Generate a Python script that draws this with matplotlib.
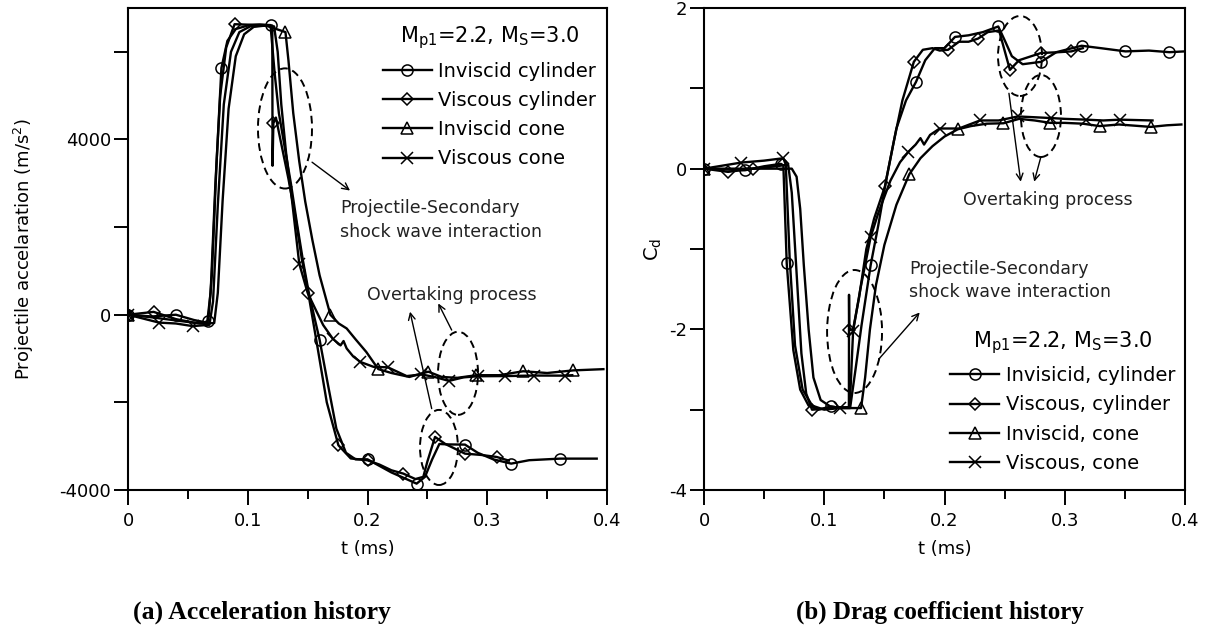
import numpy as np
import matplotlib
matplotlib.use("Agg")
import matplotlib.pyplot as plt
from matplotlib.patches import Ellipse

plt.rcParams['font.family'] = ['DejaVu Sans']
plt.rcParams['mathtext.fontset'] = 'dejavusans'
plt.rcParams['axes.unicode_minus'] = False

# ---------------- data: (a) acceleration (m/s^2) ----------------
acc_ic_t = [0.000, 0.020, 0.040, 0.055, 0.064, 0.067, 0.070, 0.074, 0.078, 0.083, 0.090, 0.100, 0.110, 0.119,
            0.1225, 0.126, 0.131, 0.136, 0.141, 0.146, 0.151, 0.156, 0.160, 0.167, 0.174, 0.182, 0.190, 0.200,
            0.210, 0.220, 0.230, 0.241, 0.248, 0.254, 0.260, 0.268, 0.2814, 0.292, 0.305, 0.320, 0.335, 0.3608, 0.3914]
acc_ic_v = [0, -40, 0, -120, -170, -140, 900, 3500, 5630, 6250, 6520, 6600, 6620, 6610,
            5500, 4600, 3800, 3000, 2100, 1250, 500, -100, -571, -1600, -2600, -3150, -3300, -3300,
            -3450, -3600, -3720, -3855, -3700, -3300, -2950, -2960, -2964, -3150, -3300, -3398, -3320, -3284, -3284]
acc_ic_mk = [0.000, 0.040, 0.067, 0.078, 0.119, 0.160, 0.200, 0.241, 0.2814, 0.320, 0.3608]

acc_vc_t = [0.000, 0.0214, 0.040, 0.055, 0.066, 0.069, 0.073, 0.077, 0.082, 0.089, 0.100, 0.110, 0.1205, 0.1207,
            0.1214, 0.1235, 0.128, 0.134, 0.140, 0.145, 0.1506, 0.158, 0.166, 0.1757, 0.186, 0.200, 0.210,
            0.220, 0.230, 0.240, 0.2466, 0.250, 0.2564, 0.265, 0.2814, 0.295, 0.3079, 0.318]
acc_vc_v = [0, 65, -100, -180, -200, 500, 3000, 5000, 6100, 6630, 6620, 6620, 6600, 3400,
            4370, 4500, 3900, 3100, 2200, 1300, 487, -700, -2000, -2979, -3280, -3322, -3420,
            -3550, -3627, -3750, -3700, -3350, -2789, -2950, -3170, -3200, -3246, -3330]
acc_vc_mk = [0.000, 0.0214, 0.089, 0.1214, 0.1506, 0.1757, 0.200, 0.230, 0.2564, 0.2814, 0.3079]

acc_it_t = [0.000, 0.020, 0.040, 0.060, 0.072, 0.075, 0.079, 0.084, 0.090, 0.097, 0.105, 0.115, 0.1315, 0.134,
            0.138, 0.143, 0.148, 0.154, 0.160, 0.165, 0.169, 0.176, 0.1826, 0.190, 0.199, 0.209, 0.220,
            0.235, 0.240, 0.2508, 0.262, 0.275, 0.291, 0.310, 0.330, 0.350, 0.372, 0.397]
acc_it_v = [0, -60, -130, -200, -190, 500, 2600, 4700, 5900, 6400, 6570, 6600, 6450, 5800,
            4600, 3500, 2583, 1700, 900, 400, 0, -200, -313, -560, -850, -1241, -1330,
            -1420, -1380, -1300, -1420, -1440, -1380, -1380, -1290, -1330, -1270, -1242]
acc_it_mk = [0.000, 0.1315, 0.169, 0.209, 0.2508, 0.291, 0.330, 0.372]

acc_vt_t = [0.000, 0.026, 0.040, 0.054, 0.068, 0.071, 0.075, 0.080, 0.086, 0.093, 0.102, 0.112, 0.122, 0.125,
            0.128, 0.132, 0.137, 0.143, 0.150, 0.157, 0.163, 0.171, 0.1775, 0.180, 0.1826, 0.188, 0.194,
            0.205, 0.217, 0.2327, 0.245, 0.256, 0.268, 0.280, 0.292, 0.315, 0.339, 0.365, 0.371]
acc_vt_v = [0, -180, -200, -260, -230, 300, 2500, 4800, 6000, 6450, 6580, 6600, 6580, 6000,
            4800, 3700, 2600, 1167, 500, 100, -236, -547, -700, -600, -770, -950, -1077,
            -1189, -1200, -1400, -1363, -1420, -1510, -1430, -1404, -1400, -1388, -1390, -1380]
acc_vt_mk = [0.000, 0.026, 0.054, 0.143, 0.171, 0.194, 0.217, 0.245, 0.268, 0.292, 0.315, 0.339, 0.365]

# ---------------- data: (b) drag coefficient ----------------
cd_ic_t = [0.000, 0.034, 0.050, 0.064, 0.066, 0.0688, 0.0743, 0.080, 0.087, 0.095, 0.1055, 0.114, 0.1215,
           0.126, 0.131, 0.1386, 0.145, 0.152, 0.160, 0.168, 0.1763, 0.184, 0.192, 0.200, 0.2087, 0.220,
           0.232, 0.2447, 0.250, 0.256, 0.265, 0.2803, 0.293, 0.314, 0.330, 0.3505, 0.370, 0.387, 0.400]
cd_ic_v = [0, -0.02, 0.03, 0.06, 0.04, -1.18, -2.26, -2.75, -2.95, -3.0, -2.96, -2.98, -2.98,
           -2.5, -1.95, -1.2, -0.7, -0.1, 0.5, 0.85, 1.08, 1.35, 1.5, 1.5, 1.64, 1.66,
           1.7, 1.77, 1.6, 1.4, 1.3, 1.33, 1.45, 1.53, 1.5, 1.46, 1.47, 1.45, 1.46]
cd_ic_mk = [0.000, 0.034, 0.064, 0.0688, 0.1055, 0.1386, 0.1763, 0.2087, 0.2447, 0.2803, 0.314, 0.3505, 0.387]

cd_vc_t = [0.000, 0.020, 0.041, 0.060, 0.070, 0.073, 0.077, 0.081, 0.085, 0.0898, 0.100, 0.110, 0.1205,
           0.1206, 0.1208, 0.124, 0.129, 0.135, 0.1415, 0.1505, 0.158, 0.165, 0.1745, 0.182, 0.190, 0.196,
           0.203, 0.212, 0.220, 0.228, 0.236, 0.2454, 0.2544, 0.262, 0.2803, 0.295, 0.3055, 0.315]
cd_vc_v = [0, -0.04, 0.0, 0.03, 0.05, -0.3, -1.3, -2.3, -2.8, -3.0, -2.99, -2.97, -2.97,
           -1.57, -2.01, -2.0, -1.6, -1.0, -0.62, -0.22, 0.35, 0.85, 1.33, 1.48, 1.5, 1.47,
           1.48, 1.58, 1.58, 1.62, 1.7, 1.72, 1.23, 1.35, 1.44, 1.45, 1.46, 1.5]
cd_vc_mk = [0.020, 0.041, 0.0898, 0.1208, 0.1505, 0.1745, 0.203, 0.228, 0.2544, 0.2803, 0.3055]

cd_it_t = [0.000, 0.030, 0.060, 0.073, 0.077, 0.080, 0.083, 0.087, 0.091, 0.097, 0.105, 0.115, 0.1306,
           0.134, 0.138, 0.143, 0.150, 0.160, 0.1707, 0.180, 0.190, 0.200, 0.211, 0.222, 0.235, 0.249,
           0.262, 0.275, 0.288, 0.300, 0.315, 0.329, 0.345, 0.3715, 0.385, 0.397]
cd_it_v = [0, 0.0, 0.0, 0.0, -0.1, -0.5, -1.2, -2.0, -2.6, -2.88, -2.96, -2.98, -2.98,
           -2.6, -2.0, -1.45, -0.95, -0.45, -0.07, 0.13, 0.28, 0.4, 0.49, 0.53, 0.56, 0.565,
           0.62, 0.6, 0.57, 0.57, 0.56, 0.53, 0.55, 0.52, 0.54, 0.55]
cd_it_mk = [0.000, 0.1306, 0.1707, 0.211, 0.249, 0.288, 0.329, 0.3715]

cd_vt_t = [0.000, 0.031, 0.050, 0.066, 0.068, 0.0712, 0.0757, 0.082, 0.090, 0.100, 0.113, 0.1212, 0.124,
           0.130, 0.1386, 0.145, 0.155, 0.163, 0.170, 0.176, 0.180, 0.183, 0.188, 0.196, 0.205, 0.212,
           0.2295, 0.245, 0.261, 0.275, 0.2886, 0.300, 0.318, 0.332, 0.346, 0.373]
cd_vt_v = [0, 0.076, 0.1, 0.13, 0.05, -1.1, -2.2, -2.75, -2.95, -3.0, -2.98, -2.97, -2.02,
           -1.5, -0.85, -0.55, -0.15, 0.08, 0.21, 0.3, 0.38, 0.3, 0.42, 0.5, 0.5, 0.5,
           0.6, 0.6, 0.65, 0.64, 0.63, 0.62, 0.61, 0.6, 0.61, 0.6]
cd_vt_mk = [0.000, 0.031, 0.066, 0.113, 0.124, 0.1386, 0.170, 0.196, 0.2295, 0.261, 0.2886, 0.318, 0.346]

x_ticks = [0, 0.1, 0.2, 0.3, 0.4]
x_tick_labels = ['0', '0.1', '0.2', '0.3', '0.4']
acc_ticks = [-4000, 0, 4000]
cd_ticks = [-4, -2, 0, 2]
labels_a = ['Inviscid cylinder', 'Viscous cylinder', 'Inviscid cone', 'Viscous cone']
labels_b = ['Invisicid, cylinder', 'Viscous, cylinder', 'Inviscid, cone', 'Viscous, cone']
legend_title = r'M$_{\mathregular{p1}}$=2.2, M$_{\mathregular{S}}$=3.0'

# ---------------- figure ----------------
fig = plt.figure(figsize=(12.05, 6.3), dpi=100)
axA = fig.add_axes([128/1205, 140/630, 479/1205, 482/630])
axB = fig.add_axes([704/1205, 140/630, 481/1205, 482/630])

markers = ['o', 'D', '^', 'x']
msizes = [8, 6.5, 8.5, 8.5]


def draw(ax, series, labels):
    handles = []
    for (t, v, mk_t), m, ms, lab in zip(series, markers, msizes, labels):
        t = np.asarray(t, float)
        idx = [int(np.argmin(np.abs(t - mt))) for mt in mk_t]
        h, = ax.plot(t, v, color='black', lw=1.7, marker=m, ms=ms, markevery=idx,
                     mfc='none', mec='black', mew=1.1, label=lab)
        handles.append(h)
    return handles


def style(ax):
    ax.set_xlim(0, 0.4)
    ax.set_xticks(x_ticks)
    ax.set_xticklabels(x_tick_labels)
    ax.set_xticks([0.05, 0.15, 0.25, 0.35], minor=True)
    ax.tick_params(axis='x', which='major', direction='out', length=11, width=1.4, pad=5, labelsize=13)
    ax.tick_params(axis='x', which='minor', direction='out', length=6.5, width=1.4)
    ax.tick_params(axis='y', which='both', direction='out', length=10, width=1.4, pad=2, labelsize=13)
    for s in ax.spines.values():
        s.set_linewidth(1.5)
    ax.set_xlabel('t (ms)', fontsize=13, labelpad=7)


hA = draw(axA, [(acc_ic_t, acc_ic_v, acc_ic_mk), (acc_vc_t, acc_vc_v, acc_vc_mk),
                (acc_it_t, acc_it_v, acc_it_mk), (acc_vt_t, acc_vt_v, acc_vt_mk)], labels_a)
hB = draw(axB, [(cd_ic_t, cd_ic_v, cd_ic_mk), (cd_vc_t, cd_vc_v, cd_vc_mk),
                (cd_it_t, cd_it_v, cd_it_mk), (cd_vt_t, cd_vt_v, cd_vt_mk)], labels_b)

style(axA)
axA.set_ylim(-4000, 7000)
axA.set_yticks(acc_ticks)
axA.set_yticks([-2000, 2000, 6000], minor=True)
axA.set_ylabel('Projectile accelaration (m/s$^{\\mathregular{2}}$)', fontsize=13, labelpad=17)

style(axB)
axB.set_ylim(-4, 2)
axB.set_yticks(cd_ticks)
axB.set_yticks([-3, -1, 1], minor=True)
axB.set_ylabel(r'C$_{\mathregular{d}}$', fontsize=14, labelpad=4)

legA = axA.legend(handles=hA, loc='upper left', bbox_to_anchor=(0.52, 0.978), frameon=False,
                  fontsize=14, title=legend_title, title_fontsize=15, numpoints=1,
                  handlelength=2.5, handletextpad=0.35, labelspacing=0.53, borderpad=0.3,
                  borderaxespad=0)
legB = axB.legend(handles=hB, loc='lower left', bbox_to_anchor=(0.50, 0.023), frameon=False,
                  fontsize=14, title=legend_title, title_fontsize=15, numpoints=1,
                  handlelength=2.5, handletextpad=0.35, labelspacing=0.53, borderpad=0.3,
                  borderaxespad=0)

dash = dict(fill=False, ls=(0, (4, 2.5)), lw=1.4, ec='black')
arrow = dict(arrowstyle='->', color='black', lw=1.0, shrinkA=0, shrinkB=0, mutation_scale=12)
txt_color = '#222222'

# annotations (a)
axA.add_patch(Ellipse((0.1311, 4251), 0.0451, 2743, **dash))
axA.add_patch(Ellipse((0.2756, -1337), 0.0334, 1897, **dash))
axA.add_patch(Ellipse((0.2597, -3029), 0.0317, 1714, **dash))
axA.annotate('', xy=(0.1854, 2834), xytext=(0.1537, 3481), arrowprops=arrow)
axA.annotate('', xy=(0.2355, 69), xytext=(0.2536, -2142), arrowprops=arrow)
axA.annotate('', xy=(0.2591, 258), xytext=(0.2703, -350), arrowprops=arrow)
axA.text(0.177, 2160, 'Projectile-Secondary\nshock wave interaction', fontsize=12.5,
         ha='left', va='center', linespacing=1.4, color=txt_color)
axA.text(0.2706, 457, 'Overtaking process', fontsize=12.5, ha='center', va='center', color=txt_color)

# annotations (b)
axB.add_patch(Ellipse((0.2628, 1.4025), 0.0366, 0.996, **dash))
axB.add_patch(Ellipse((0.2802, 0.6556), 0.0333, 1.021, **dash))
axB.add_patch(Ellipse((0.1252, -2.027), 0.0457, 1.531, **dash))
axB.annotate('', xy=(0.2634, -0.162), xytext=(0.2536, 0.938), arrowprops=arrow)
axB.annotate('', xy=(0.2746, -0.162), xytext=(0.2802, 0.149), arrowprops=arrow)
axB.annotate('', xy=(0.1794, -1.79), xytext=(0.1454, -2.37), arrowprops=arrow)
axB.text(0.2861, -0.39, 'Overtaking process', fontsize=12.5, ha='center', va='center', color=txt_color)
axB.text(0.1705, -1.392, 'Projectile-Secondary\nshock wave interaction', fontsize=12.5,
         ha='left', va='center', linespacing=1.4, color=txt_color)

# captions
fig.text(262/1205, 1 - 612/630, '(a) Acceleration history', family='Liberation Serif',
         weight='bold', fontsize=18.5, ha='center', va='center')
fig.text(940/1205, 1 - 612/630, '(b) Drag coefficient history', family='Liberation Serif',
         weight='bold', fontsize=18, ha='center', va='center')

fig.savefig('out.png', dpi=100)
